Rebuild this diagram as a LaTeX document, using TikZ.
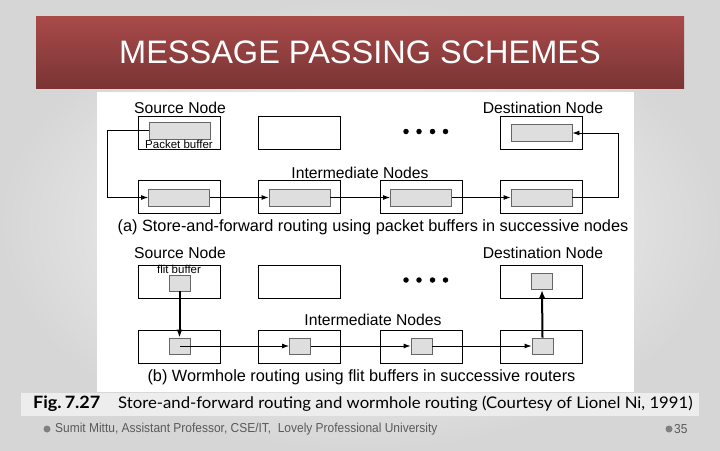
\documentclass[tikz,border=0pt]{standalone}
\usepackage{fontspec}
\setmainfont{Liberation Sans}
\newfontfamily\capfont{Lato}
\usetikzlibrary{positioning,arrows.meta}

\definecolor{bannertop}{HTML}{A94A4A}
\definecolor{bannerbot}{HTML}{7A3434}
\definecolor{footgray}{HTML}{5A5A5A}

\tikzset{
  routerbox/.style={draw=black, line width=0.9pt, minimum width=82pt, minimum height=33pt, inner sep=0pt},
  pktbuf/.style={draw=black!60, fill=black!13, line width=0.9pt, minimum width=61pt, minimum height=17pt, inner sep=0pt},
  flitbuf/.style={draw=black!60, fill=black!13, line width=0.9pt, minimum width=21pt, minimum height=16pt, inner sep=0pt},
  hop/.style={-{Latex[length=7pt,width=5pt]}, line width=0.9pt},
  worm/.style={-{Latex[length=8pt,width=6pt]}, line width=2pt},
  lbl/.style={font=\fontsize{15.7}{16}\selectfont, inner sep=0pt},
  caplbl/.style={font=\fontsize{16.3}{16}\selectfont, inner sep=0pt},
  dotmark/.style={circle, fill=black, inner sep=0pt, minimum size=5.5pt},
}

\begin{document}
\begin{tikzpicture}[x=1pt, y=-1pt]
    \useasboundingbox (0,0) rectangle (720,450);
    \shade[inner color=white, outer color=black!16] (0,0) rectangle (720,450);
    \fill[white] (97,92) rectangle (634,392);

    % title
    \node[top color=bannertop, bottom color=bannerbot, minimum width=648pt, minimum height=72pt,
          text=white, font=\fontsize{32.5}{32}\selectfont] (title) at (360,52) {MESSAGE PASSING SCHEMES};

    % (a) store-and-forward
    \node[routerbox] (aS) at (179,133) {};
    \node[routerbox] (aM) at (299.5,133) {};
    \node[routerbox] (aD) at (541.5,133) {};
    \node[pktbuf] (aSbuf) at (180,130.5) {};
    \node[pktbuf] (aDbuf) at (541.5,133) {};
    \node[lbl] (aSlbl) at (180,108) {Source Node};
    \node[lbl] (aDlbl) at (543,108) {Destination Node};
    \node[font=\fontsize{11.5}{11}\selectfont, inner sep=0pt] (pkt) at (179,144.5) {Packet buffer};
    \foreach \i/\x in {1/406,2/419,3/432.5,4/445.5}
        \node[dotmark] (adot\i) at (\x,131.5) {};

    \node[lbl] (aIlbl) at (360,173) {Intermediate Nodes};
    \foreach \i/\x in {1/179,2/299.5,3/421,4/541.5} {
        \node[routerbox] (aB\i) at (\x,197) {};
        \node[pktbuf] (aB\i buf) at (\x,197.5) {};
    }

    \draw[hop] (aSbuf.west) -- ++(-42,0) |- (aB1buf.west);
    \draw[hop] (aB1buf.east) -- (aB2buf.west);
    \draw[hop] (aB2buf.east) -- (aB3buf.west);
    \draw[hop] (aB3buf.east) -- (aB4buf.west);
    \draw[hop] (aB4buf.east) -- ++(46,0) |- (aDbuf.east);

    \node[caplbl] (acap) at (373,227) {(a) Store-and-forward routing using packet buffers in successive nodes};

    % (b) wormhole
    \node[routerbox] (bS) at (179,281.5) {};
    \node[routerbox] (bM) at (299.5,281.5) {};
    \node[routerbox] (bD) at (541.5,281.5) {};
    \node[flitbuf] (bSbuf) at (179.5,283) {};
    \node[flitbuf] (bDbuf) at (542,281.5) {};
    \node[lbl] (bSlbl) at (180,253) {Source Node};
    \node[lbl] (bDlbl) at (543,253) {Destination Node};
    \node[font=\fontsize{11.5}{11}\selectfont, inner sep=0pt] (flit) at (179,269.5) {flit buffer};
    \foreach \i/\x in {1/406,2/419,3/432.5,4/445.5}
        \node[dotmark] (bdot\i) at (\x,280) {};

    \node[lbl] (bIlbl) at (373,320) {Intermediate Nodes};
    \foreach \i/\x/\f in {1/179/179.5,2/299.5/300,3/421/421.5,4/541.5/542.5} {
        \node[routerbox] (bB\i) at (\x,347) {};
        \node[flitbuf] (bB\i buf) at (\f,346) {};
    }

    \draw[worm] (bSbuf.south) -- (bB1buf.north);
    \draw[hop] (bB1buf.center) -- (bB2buf.west);
    \draw[hop] (bB2buf.east) -- (bB3buf.west);
    \draw[hop] (bB3buf.east) -- (bB4buf.west);
    \draw[worm] (bB4buf.north) -- (bDbuf.south);

    \node[caplbl] (bcap) at (361.5,377) {(b) Wormhole routing using flit buffers in successive routers};

    % figure caption
    \node[fill=black!7, minimum width=678pt, minimum height=23pt, inner sep=0pt] (figstrip) at (360,404.5) {};
    \node[anchor=west, inner sep=0pt, font=\capfont\bfseries\fontsize{17}{17}\selectfont] (fignum) at (33,404)
        {\scalebox{1.06}[1]{Fig.\,7.27}};
    \node[anchor=west, inner sep=0pt, font=\capfont\fontsize{16}{16}\selectfont] (figtext) at (118,404)
        {\scalebox{1.045}[1]{Store-and-forward routing and wormhole routing (Courtesy of Lionel Ni, 1991)}};

    % footer
    \node[circle, fill=black!50, inner sep=0pt, minimum size=7pt] (fb1) at (47,429) {};
    \node[anchor=west, inner sep=0pt, text=footgray, font=\fontsize{13}{13}\selectfont] (foot) at (55,429)
        {\scalebox{0.92}[1]{Sumit Mittu, Assistant Professor, CSE/IT,\ \ Lovely Professional University}};
    \node[circle, fill=black!50, inner sep=0pt, minimum size=7pt] (fb2) at (669,429) {};
    \node[anchor=west, inner sep=0pt, text=footgray, font=\fontsize{13}{13}\selectfont] (page) at (674,429)
        {\scalebox{0.92}[1]{35}};
\end{tikzpicture}
\end{document}
